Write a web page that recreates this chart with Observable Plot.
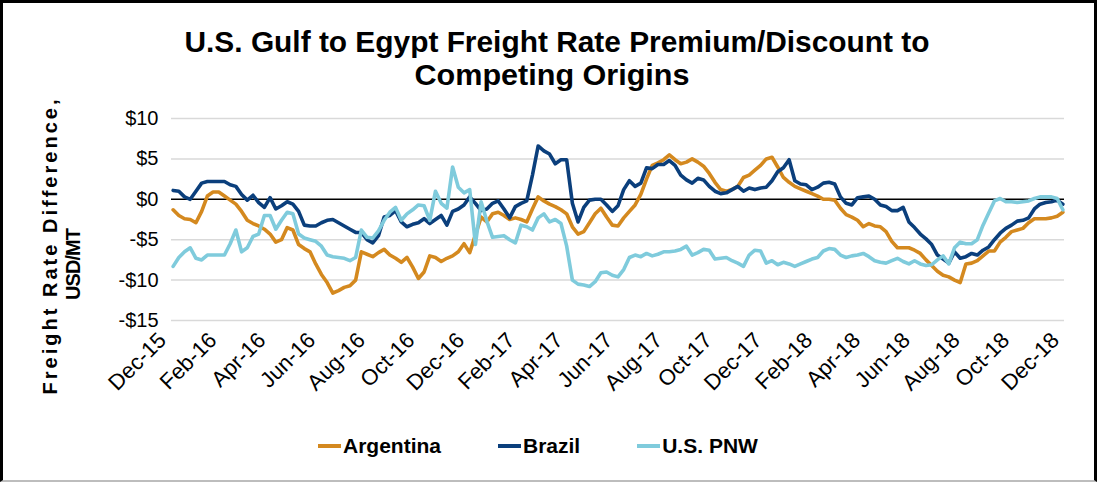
<!DOCTYPE html>
<html>
<head>
<meta charset="utf-8">
<script src="https://cdn.jsdelivr.net/npm/d3@7"></script>
<script src="https://cdn.jsdelivr.net/npm/@observablehq/plot@0.6"></script>
<style>
  html, body { margin: 0; padding: 0; background: #fff; }
  #wrap { position: relative; width: 1097px; height: 482px; overflow: hidden; background: #fff;
          font-family: "Liberation Sans", Arial, sans-serif; }
  #frame { position: absolute; left: 0; top: 0; width: 1097px; height: 482px; box-sizing: border-box;
           border-top: 3px solid #000; border-left: 3px solid #000; border-right: 3px solid #000;
           border-bottom: 2px solid #bdbdbd; pointer-events: none; }
  #title { position: absolute; left: 0; top: 0; }
  #chart { position: absolute; left: 0; top: 100px; }
  #legend { position: absolute; left: 318px; top: 434px; display: flex; align-items: center; gap: 57px;
            font-weight: bold; font-size: 21px; color: #000; }
  .item { display: flex; align-items: center; }
  .sw { width: 23px; height: 4px; margin-right: 2px; }
</style>
</head>
<body>
<div id="wrap">
  <svg id="title" width="1097" height="100"></svg>
  <div id="chart"></div>
  <div id="legend"></div>
  <div id="frame"></div>
</div>
<script>
// ---- data ----
const titleLines = ["U.S. Gulf to Egypt Freight Rate Premium/Discount to", "Competing Origins"];
const yLabelLines = ["Freight Rate Difference,", "USD/MT"];
const seriesNames = ["Argentina", "Brazil", "U.S. PNW"];
const seriesColors = ["#d4891f", "#0b3f7c", "#7fcbdc"];
const xTickLabels = ["Dec-15","Feb-16","Apr-16","Jun-16","Aug-16","Oct-16","Dec-16","Feb-17","Apr-17","Jun-17",
                     "Aug-17","Oct-17","Dec-17","Feb-18","Apr-18","Jun-18","Aug-18","Oct-18","Dec-18"];
const yTicks = [-15, -10, -5, 0, 5, 10];
const firstWeek = "2015-12-03"; // weekly observations start

const argentina = [
  -1.3,-2.0,-2.4,-2.5,-2.9,-1.5,0.4,0.9,0.9,0.4,-0.1,-0.6,-1.5,-2.6,-3.0,-3.3,-3.7,-4.3,-5.3,-5.0,-3.5,-3.8,-5.6,-6.1,-6.5,-8.0,
  -9.3,-10.3,-11.6,-11.3,-10.9,-10.7,-10.0,-6.5,-6.8,-7.1,-6.6,-6.2,-6.9,-7.3,-7.8,-7.2,-8.4,-9.8,-9.0,-7.0,-7.2,-7.7,-7.3,-7.0,-6.5,-5.5,
  -6.6,-4.4,-2.2,-2.8,-1.8,-1.6,-2.0,-2.5,-2.3,-2.5,-2.8,-1.2,0.3,-0.2,-0.6,-0.9,-1.3,-1.8,-3.4,-4.3,-4.0,-2.9,-1.8,-1.1,-2.2,-3.2,
  -3.3,-2.3,-1.5,-0.7,0.6,2.5,4.2,4.5,4.9,5.5,4.9,4.4,4.6,5.0,4.6,4.1,3.2,2.1,1.2,1.0,1.2,1.6,2.7,3.0,3.6,4.2,
  5.0,5.2,4.0,2.7,2.1,1.6,1.3,1.0,0.7,0.4,0.0,0.0,-0.1,-1.1,-1.9,-2.2,-2.6,-3.4,-3.0,-3.3,-3.4,-4.0,-5.2,-6.0,-6.0,-6.0,
  -6.3,-6.7,-7.5,-8.2,-8.9,-9.4,-9.6,-10.0,-10.3,-8.0,-7.9,-7.6,-7.0,-6.4,-6.4,-5.3,-4.7,-4.0,-3.8,-3.6,-2.9,-2.4,-2.4,-2.4,-2.3,-2.1,-1.6
];
const brazil = [
  1.1,1.0,0.3,0.0,1.0,2.0,2.2,2.2,2.2,2.2,1.8,1.6,0.6,-0.1,0.5,-0.4,-1.0,0.2,-1.2,-0.8,-0.3,-0.6,-1.5,-3.2,-3.3,-3.3,
  -2.9,-2.6,-2.5,-2.9,-3.3,-3.7,-4.1,-4.1,-5.0,-5.4,-4.5,-2.2,-2.0,-1.4,-2.8,-3.4,-3.1,-2.9,-2.4,-3.0,-2.5,-2.0,-3.2,-1.5,-1.2,-0.7,
  0.3,-0.5,-1.4,-1.2,-0.5,-0.2,-1.2,-2.3,-0.9,-0.5,-0.2,3.0,6.6,6.0,5.6,4.4,4.9,4.9,-0.5,-2.8,-1.0,-0.1,0.0,0.0,-0.7,-1.5,
  -0.8,1.2,2.3,1.6,2.0,3.9,3.8,4.3,4.3,4.8,4.2,3.0,2.4,2.0,2.6,2.4,1.6,1.0,0.7,0.8,1.2,1.6,1.0,1.4,1.2,1.4,
  1.5,2.3,3.4,3.9,4.9,2.3,1.9,1.8,1.2,1.5,2.0,2.1,1.9,0.3,-0.5,-0.7,0.2,0.3,0.4,0.0,-0.7,-0.9,-1.4,-1.4,-1.0,-2.8,
  -3.5,-4.3,-4.9,-5.6,-6.9,-7.4,-7.9,-6.5,-7.3,-7.1,-6.7,-6.9,-6.3,-5.9,-5.0,-4.2,-3.6,-3.2,-2.7,-2.6,-2.3,-1.2,-0.6,-0.4,-0.3,-0.1,-0.6
];
const usPnw = [
  -8.3,-7.2,-6.5,-6.0,-7.3,-7.5,-6.9,-6.9,-6.9,-6.9,-5.5,-3.8,-6.5,-6.0,-4.6,-4.3,-2.0,-2.0,-3.7,-2.6,-1.6,-1.8,-4.3,-4.8,-5.0,-5.2,
  -5.8,-6.9,-7.1,-7.2,-7.3,-7.6,-7.2,-3.8,-4.7,-4.8,-3.9,-2.6,-1.6,-1.0,-2.6,-1.8,-1.3,-0.7,-0.8,-2.6,1.0,-0.5,-1.1,4.0,1.5,0.8,
  1.2,-5.6,-0.3,-2.7,-4.7,-4.6,-4.5,-5.0,-5.4,-3.2,-3.4,-3.8,-2.3,-1.8,-2.8,-2.5,-3.0,-5.8,-10.0,-10.5,-10.6,-10.8,-10.2,-9.1,-9.0,-9.4,
  -9.6,-8.7,-7.2,-6.9,-7.1,-6.7,-7.0,-6.8,-6.5,-6.5,-6.4,-6.2,-5.8,-6.9,-6.6,-6.2,-6.3,-7.4,-7.3,-7.2,-7.6,-7.9,-8.3,-6.9,-6.3,-6.4,
  -7.9,-7.6,-8.1,-7.8,-8.0,-8.3,-8.0,-7.7,-7.4,-7.2,-6.4,-6.1,-6.2,-6.9,-7.2,-7.0,-6.9,-6.7,-7.1,-7.6,-7.8,-7.9,-7.6,-7.3,-7.7,-8.0,
  -7.6,-8.0,-8.2,-8.1,-7.5,-7.0,-8.0,-6.0,-5.3,-5.5,-5.5,-5.0,-3.2,-1.7,-0.2,0.1,-0.3,-0.3,-0.4,-0.3,-0.2,0.1,0.3,0.3,0.3,0.1,-1.3
];

// ---- build table ----
const parseTick = d3.utcParse("%b-%y");
const tickDates = xTickLabels.map(parseTick);
const start = d3.utcParse("%Y-%m-%d")(firstWeek);
const seriesValues = [argentina, brazil, usPnw];
const rows = [];
seriesValues.forEach((vals, s) => {
  vals.forEach((v, i) => rows.push({ series: seriesNames[s], date: d3.utcDay.offset(start, 7 * i), value: v }));
});

const fmtY = d => d < 0 ? `-$${-d}` : `$${d}`;
const FONT = "Liberation Sans, Arial, sans-serif";

// ---- title ----
const tsvg = d3.select("#title");
tsvg.append("text").attr("x", 557).attr("y", 52).attr("text-anchor", "middle")
  .attr("font-family", FONT).attr("font-weight", "bold").attr("font-size", 29)
  .attr("textLength", 745).attr("lengthAdjust", "spacingAndGlyphs").text(titleLines[0]);
tsvg.append("text").attr("x", 552).attr("y", 85).attr("text-anchor", "middle")
  .attr("font-family", FONT).attr("font-weight", "bold").attr("font-size", 29)
  .attr("textLength", 275).attr("lengthAdjust", "spacingAndGlyphs").text(titleLines[1]);

// ---- chart ----
const chart = Plot.plot({
  width: 1097,
  height: 322,
  marginTop: 18,
  marginBottom: 102,
  marginLeft: 171,
  marginRight: 33,
  style: { fontFamily: FONT, fontSize: "20px", color: "#000", background: "transparent", overflow: "visible" },
  x: { type: "utc", domain: [tickDates[0], tickDates[tickDates.length - 1]] },
  y: { domain: [-15, 10] },
  color: { domain: seriesNames, range: seriesColors },
  marks: [
    Plot.ruleY(yTicks.filter(d => d !== 0), { stroke: "#d9d9d9", strokeWidth: 1.5 }),
    Plot.ruleY([0], { stroke: "#000", strokeWidth: 1.5 }),
    Plot.axisY({ ticks: yTicks, tickFormat: fmtY, tickSize: 0, tickPadding: 13, label: null, fontSize: 20 }),
    Plot.axisX({ ticks: tickDates, tickFormat: d3.utcFormat("%b-%y"), tickRotate: -45, tickSize: 0,
                 tickPadding: 10, label: null, fontSize: 22, dx: -9, dy: 6 }),
    Plot.line(rows, { x: "date", y: "value", stroke: "series", strokeWidth: 3.6, strokeLinejoin: "round" })
  ]
});
document.getElementById("chart").appendChild(chart);

// y-axis title (two lines, rotated)
const csvg = d3.select(chart);
csvg.append("text").attr("transform", "translate(57,147) rotate(-90)").attr("text-anchor", "middle")
  .attr("font-family", FONT).attr("font-weight", "bold").attr("font-size", 20)
  .attr("textLength", 295).attr("lengthAdjust", "spacing").attr("fill", "#000").text(yLabelLines[0]);
csvg.append("text").attr("transform", "translate(80,164) rotate(-90)").attr("text-anchor", "middle")
  .attr("font-family", FONT).attr("font-weight", "bold").attr("font-size", 20)
  .attr("textLength", 72).attr("lengthAdjust", "spacing").attr("fill", "#000").text(yLabelLines[1]);

// ---- legend ----
const legend = d3.select("#legend");
seriesNames.forEach((name, i) => {
  const it = legend.append("div").attr("class", "item");
  it.append("div").attr("class", "sw").style("background", seriesColors[i]);
  it.append("span").text(name);
});
</script>
</body>
</html>
